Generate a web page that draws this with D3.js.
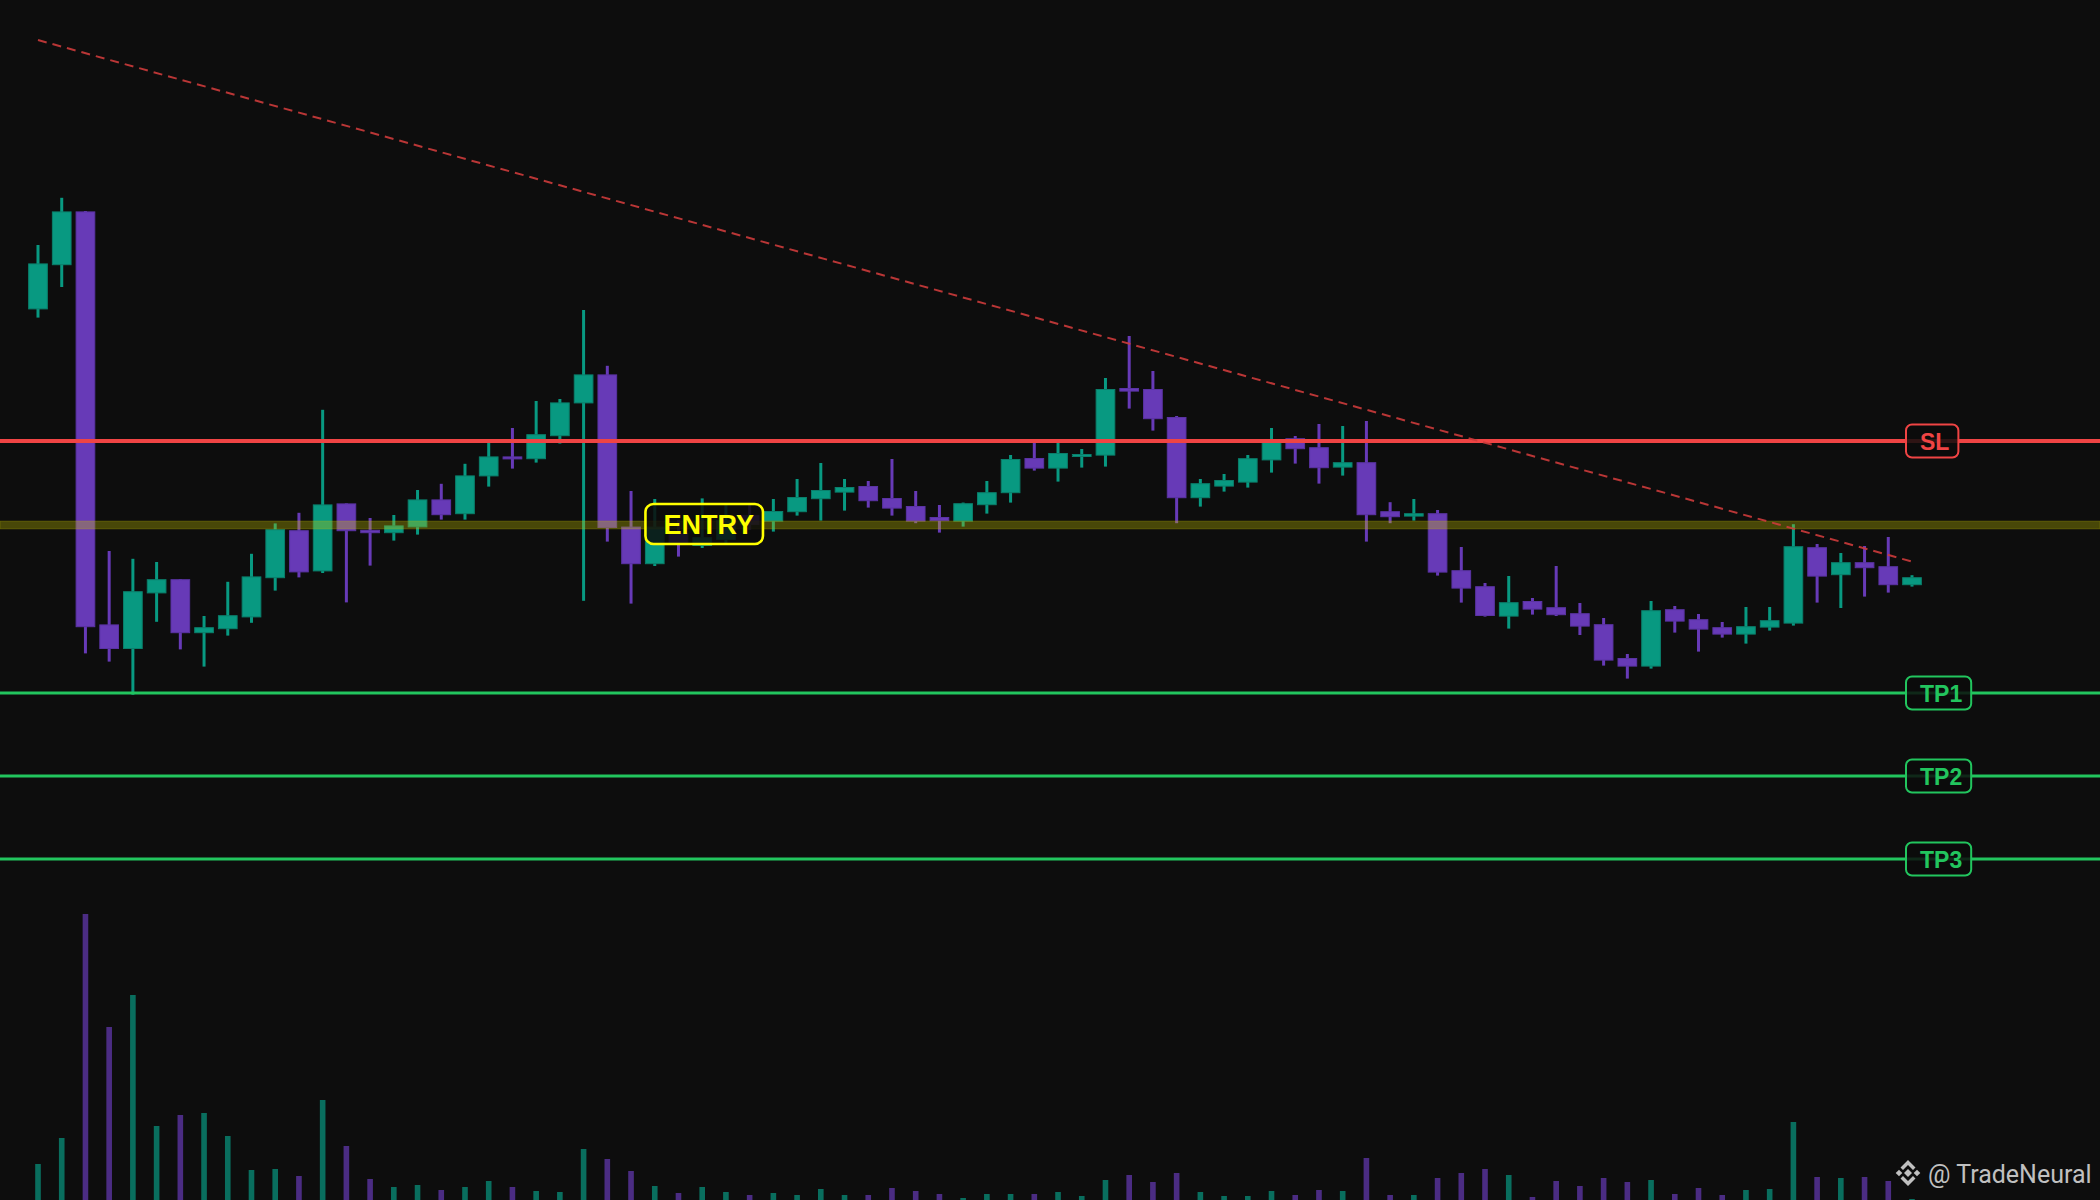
<!DOCTYPE html>
<html><head><meta charset="utf-8">
<script src="https://cdn.jsdelivr.net/npm/d3@7"></script>
<style>html,body{margin:0;padding:0;background:#0d0d0d;overflow:hidden}</style>
</head><body>
<svg id="chart" width="2100" height="1200"></svg>
<script>
// ---- data (arbitrary price units) ----
const opens = [110.78,112.99,115.68,95.03,93.80,96.58,97.29,94.59,94.79,95.38,
  97.34,99.74,97.68,101.08,99.76,99.59,99.88,101.28,100.54,102.43,
  103.43,103.29,104.44,106.08,107.53,99.92,98.04,99.60,98.95,99.25,
  100.50,100.17,100.64,101.29,101.62,101.95,101.35,100.95,100.40,100.17,
  100.99,101.59,103.35,102.82,103.44,103.47,106.85,106.80,105.40,101.34,
  101.92,102.12,103.23,104.34,103.89,102.87,103.14,100.69,100.42,100.59,
  97.74,96.94,95.42,96.20,95.89,95.59,95.04,93.35,92.92,95.79,
  95.29,94.89,94.52,94.87,95.07,98.89,97.49,98.14,97.94,96.99];
const highs = [114.00,116.36,115.70,98.70,98.31,98.15,97.29,95.45,97.16,98.56,
  100.08,100.61,105.76,101.08,100.35,100.50,101.75,102.06,103.06,104.15,
  104.85,106.20,106.30,110.75,107.96,101.70,101.30,100.25,101.33,101.00,
  101.00,101.30,102.30,103.10,102.30,102.20,103.30,101.70,101.00,101.12,
  102.20,103.50,104.15,104.15,103.80,107.35,109.45,107.70,105.45,102.30,
  102.55,103.50,104.85,104.45,105.05,104.95,105.20,101.14,101.30,100.75,
  98.90,97.10,97.45,96.35,97.95,96.10,95.35,93.55,96.20,95.95,
  95.55,95.15,95.90,95.90,100.04,99.05,98.60,98.95,99.40,97.49];
const lows = [110.37,111.90,93.58,93.17,91.51,95.16,93.78,92.92,94.47,95.11,
  96.72,97.38,97.60,96.13,97.97,99.22,99.52,100.27,100.27,101.92,
  102.82,103.12,104.07,96.21,99.17,96.07,97.95,98.42,98.85,99.00,
  99.75,99.67,100.47,100.22,100.72,100.87,100.47,100.09,99.62,99.92,
  100.57,101.12,102.72,102.17,102.87,102.92,105.82,104.72,100.09,100.92,
  101.67,101.87,102.62,103.07,102.07,102.47,99.17,100.09,100.22,97.47,
  96.12,95.42,94.82,95.52,95.45,94.50,92.97,92.32,92.82,94.62,
  93.67,94.37,94.07,94.72,94.97,96.12,95.85,96.42,96.62,96.92];
const closes = [113.08,115.68,94.89,93.80,96.69,97.29,94.59,94.89,95.49,97.43,
  99.79,97.63,101.03,99.69,99.59,99.98,101.28,100.49,102.48,103.43,
  103.29,104.54,106.13,107.53,99.85,98.04,99.92,99.00,99.39,100.25,
  100.00,100.70,101.40,101.75,101.90,101.19,100.82,100.17,100.19,101.09,
  101.64,103.30,102.82,103.60,103.55,106.80,106.67,105.29,101.34,102.09,
  102.25,103.34,104.25,103.79,102.84,103.14,100.49,100.39,100.59,97.62,
  96.82,95.45,96.14,95.77,95.49,94.92,93.22,92.92,95.74,95.17,
  94.77,94.52,94.94,95.24,98.94,97.42,98.14,97.84,96.99,97.39];
const volumes = [36,62,286,173,205,74,85,87,64,30,
  31,24,100,54,21,13,15,10,13,19,
  13,9,8,51,41,29,14,7,13,8,
  5,7,5,11,5,5,12,9,6,2,
  6,6,6,8,4,20,25,18,27,8,
  4,4,9,5,10,9,42,5,5,22,
  27,31,25,3,19,14,22,18,20,6,
  12,5,10,11,78,23,22,23,19,1];

const levelNames  = ["SL", "TP1", "TP2", "TP3"];
const levelPrices = [104.2, 91.6, 87.45, 83.3];
const entryPrice = 100.0;
const entryLabel = "ENTRY";
const entryLabelIdx = 28;
const trendIdx = [0, 79];
const trendPrices = [124.25, 98.17];
const watermarkText = "@ TradeNeural";

// ---- layout ----
const W = 2100, H = 1200;
const N = opens.length;
const UP = "#089981", DOWN = "#673ab7";
const UP_EDGE = "#0a7f6b", DOWN_EDGE = "#5a33a3";
const RED = "#ef4444", GREEN = "#22c55e", YEL = "#ffff00";

const svg = d3.select("#chart");
svg.append("rect").attr("width", W).attr("height", H).attr("fill", "#0d0d0d");

const x = d3.scaleLinear().domain([0, N - 1]).range([38, 1912]);
const y = d3.scaleLinear().domain([76.25, 126.25]).range([1000, 0]);
const yv = d3.scaleLinear().domain([0, d3.max(volumes)]).range([H, 914]);

const step = x(1) - x(0);
const bodyW = step * 0.83;
const data = d3.range(N).map(i => ({i, o: opens[i], h: highs[i], l: lows[i], c: closes[i], v: volumes[i], up: closes[i] >= opens[i]}));

// volume
svg.append("g").selectAll("rect").data(data).join("rect")
  .attr("x", d => x(d.i) - 2.8).attr("width", 5.6)
  .attr("y", d => yv(d.v)).attr("height", d => yv(0) - yv(d.v))
  .attr("fill", d => d.up ? UP : DOWN).attr("fill-opacity", 0.7);

// candles
const cg = svg.append("g");
cg.selectAll("rect.wick").data(data).join("rect").attr("class", "wick")
  .attr("x", d => x(d.i) - 1.5).attr("width", 3)
  .attr("y", d => y(d.h)).attr("height", d => Math.max(1, y(d.l) - y(d.h)))
  .attr("fill", d => d.up ? UP : DOWN);
cg.selectAll("rect.body").data(data).join("rect").attr("class", "body")
  .attr("x", d => x(d.i) - bodyW / 2 + 0.5).attr("width", bodyW - 1)
  .attr("y", d => y(Math.max(d.o, d.c)) + 0.5)
  .attr("height", d => Math.max(3, Math.abs(y(d.o) - y(d.c))) - 1)
  .attr("fill", d => d.up ? UP : DOWN)
  .attr("stroke", d => d.up ? UP_EDGE : DOWN_EDGE).attr("stroke-width", 1);

// entry band
svg.append("rect").attr("x", 0).attr("width", W)
  .attr("y", y(entryPrice) - 4).attr("height", 8)
  .attr("fill", "rgba(200,195,0,0.32)")
  .attr("stroke", "rgba(200,195,0,0.22)").attr("stroke-width", 1);

// levels
levelNames.forEach((name, k) => {
  const yy = y(levelPrices[k]);
  svg.append("line").attr("x1", 0).attr("x2", W).attr("y1", yy).attr("y2", yy)
    .attr("stroke", name === "SL" ? RED : GREEN).attr("stroke-width", name === "SL" ? 4 : 3);
});

// trendline
svg.append("line")
  .attr("x1", x(trendIdx[0])).attr("y1", y(trendPrices[0]))
  .attr("x2", x(trendIdx[1])).attr("y2", y(trendPrices[1]))
  .attr("stroke", "#cc3b3b").attr("stroke-width", 2).attr("stroke-dasharray", "9,6").attr("opacity", 0.9);

// labels
function label(cx, cy, text, color, size, padL, padR, h, anchorLeft, sw, rx) {
  const g = svg.append("g");
  const box = g.append("rect");
  const t = g.append("text").text(text)
    .attr("font-family", "'Liberation Sans', Arial, sans-serif").attr("font-weight", "bold")
    .attr("font-size", size).attr("fill", color).attr("dominant-baseline", "central");
  const tw = t.node().getComputedTextLength();
  const bw = tw + padL + padR;
  const bx = anchorLeft ? cx : cx - bw / 2;
  box.attr("x", bx).attr("y", cy - h / 2).attr("width", bw).attr("height", h)
    .attr("rx", rx).attr("fill", "rgba(12,12,12,0.85)").attr("stroke", color).attr("stroke-width", sw);
  t.attr("x", bx + padL).attr("y", cy + 1);
}
levelNames.forEach((name, k) => {
  label(1906, y(levelPrices[k]), name, name === "SL" ? RED : GREEN, 23, 14, 9, 33, true, 2, 6);
});
label(x(entryLabelIdx) + 2, y(entryPrice) - 1, entryLabel, YEL, 27, 18, 9, 40, false, 2.6, 8);

// watermark
const wm = svg.append("g").attr("transform", "translate(1908,1173)").attr("fill", "#d4d4d4").attr("opacity", 0.9);
const diamond = (cx, cy, r) => `M${cx},${cy - r}L${cx + r},${cy}L${cx},${cy + r}L${cx - r},${cy}Z`;
wm.append("path").attr("d", diamond(0, 0, 4));
wm.append("path").attr("d", diamond(-9, 0, 3.3));
wm.append("path").attr("d", diamond(9, 0, 3.3));
wm.append("path").attr("d", "M0,-13L7.5,-5.5L5,-3L0,-8L-5,-3L-7.5,-5.5Z");
wm.append("path").attr("d", "M0,13L7.5,5.5L5,3L0,8L-5,3L-7.5,5.5Z");
svg.append("text").attr("x", 1928).attr("y", 1183).text(watermarkText)
  .attr("font-family", "Roboto, 'Noto Sans', sans-serif").attr("font-size", 25)
  .attr("fill", "#d4d4d4").attr("opacity", 0.9);
</script>
</body></html>
